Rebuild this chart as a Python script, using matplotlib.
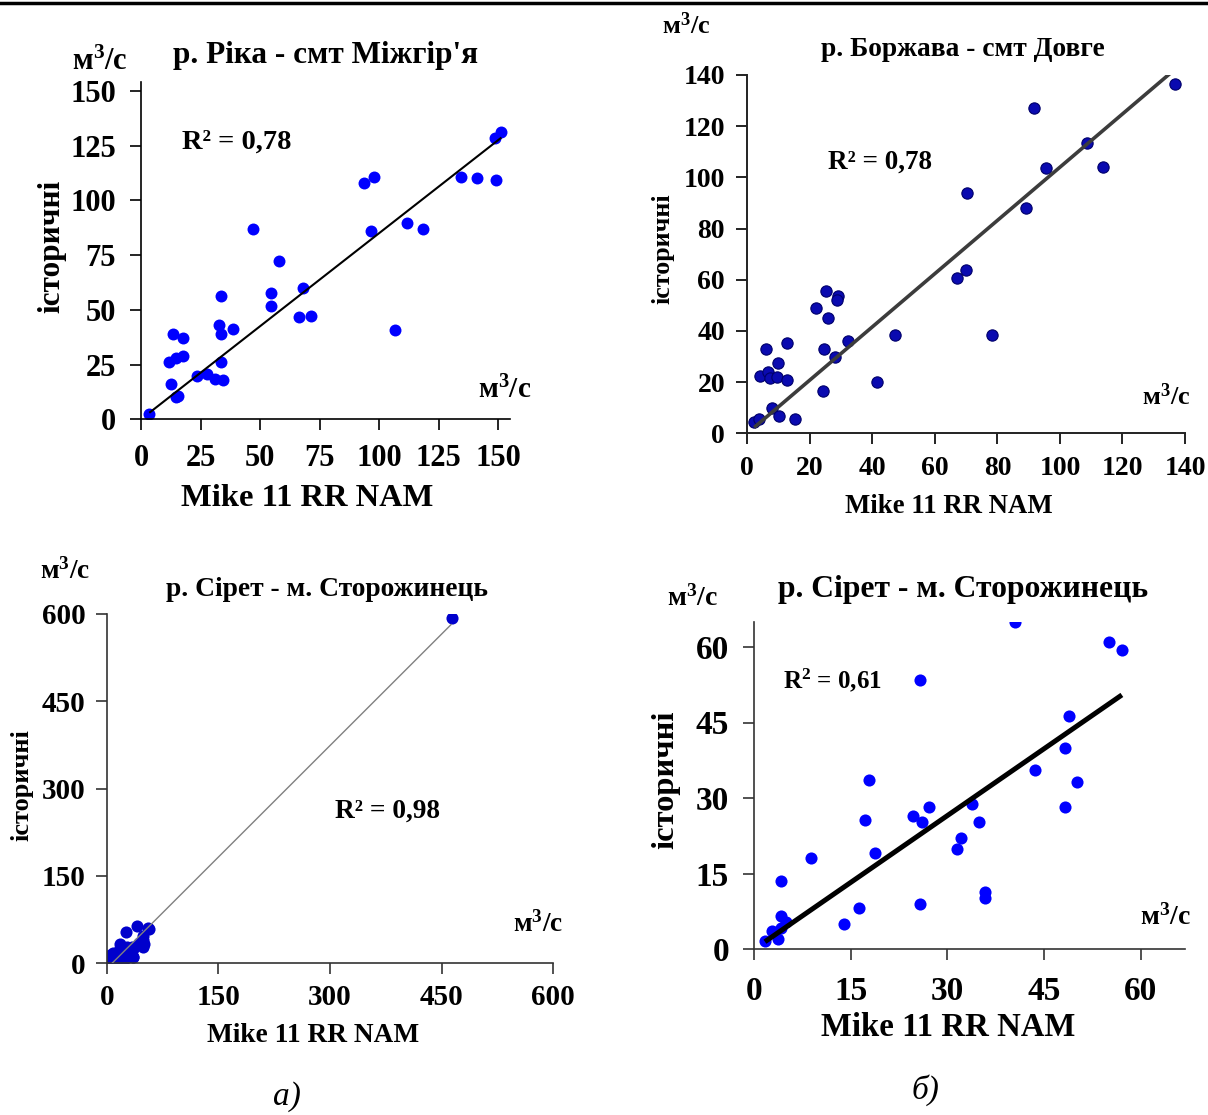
import numpy as np
import matplotlib
matplotlib.use('Agg')
import matplotlib.pyplot as plt
from matplotlib.lines import Line2D

plt.rcParams['font.family'] = ['Liberation Serif', 'DejaVu Serif']
plt.rcParams['mathtext.fontset'] = 'custom'
plt.rcParams['mathtext.rm'] = 'Liberation Serif'
plt.rcParams['mathtext.bf'] = 'Liberation Serif:bold'
plt.rcParams['mathtext.it'] = 'Liberation Serif:italic'

# р. Ріка - смт Міжгір'я
rika_x = [3.5, 12.5, 14.6, 15.6, 11.8, 14.6, 17.5, 13.3, 17.5, 23.4, 27.6, 31.1,
          34.6, 33.5, 32.9, 33.7, 38.8, 33.7, 47.2, 54.7, 54.7, 58.0, 66.4, 71.5,
          68.0, 93.5, 97.7, 96.6, 106.8, 111.7, 118.5, 134.6, 141.3, 149.0, 148.9, 151.4]
rika_y = [2.3, 16.2, 10.0, 10.8, 26.1, 28.1, 28.8, 38.8, 37.3, 19.9, 20.7, 18.5,
          17.8, 26.1, 42.9, 39.1, 41.1, 56.4, 86.8, 57.5, 51.8, 72.1, 46.5, 47.2,
          60.1, 108.1, 110.6, 85.9, 40.8, 89.7, 86.8, 110.7, 110.0, 109.1, 128.4, 131.2]

# р. Боржава - смт Довге
borz_x = [2.2, 3.7, 7.8, 10.1, 15.2, 4.1, 6.7, 7.3, 9.4, 12.6, 9.9, 6.0, 12.6,
          24.1, 24.5, 28.0, 32.3, 25.9, 22.0, 25.2, 28.9, 28.8, 41.4, 47.2, 67.1,
          69.8, 70.4, 78.4, 89.3, 91.7, 95.4, 108.8, 113.8, 136.9]
borz_y = [4.5, 5.5, 9.8, 6.9, 5.5, 22.5, 24.1, 21.5, 22.1, 20.8, 27.4, 32.8, 35.2,
          16.6, 32.8, 29.7, 36.1, 44.9, 48.8, 55.6, 53.7, 52.1, 19.9, 38.4, 60.6,
          63.8, 93.8, 38.4, 87.9, 127.2, 103.6, 113.6, 103.9, 136.5]

# р. Сірет - м. Сторожинець
siret_x = [1.7, 3.7, 2.8, 4.2, 5.0, 4.2, 4.2, 8.8, 13.9, 16.3, 17.2, 17.9, 18.8,
           24.7, 26.0, 25.7, 25.7, 27.2, 31.5, 32.2, 33.8, 35.0, 35.8, 35.8, 40.5,
           43.6, 48.3, 48.3, 48.9, 50.2, 55.1, 57.1]
siret_y = [1.6, 2.0, 3.7, 4.2, 5.4, 6.6, 13.6, 18.1, 5.0, 8.1, 25.6, 33.5, 19.2,
           26.4, 25.2, 8.9, 53.4, 28.3, 20.0, 22.0, 28.8, 25.2, 11.4, 10.1, 64.9,
           35.5, 39.9, 28.3, 46.2, 33.2, 60.9, 59.3]
# flood peak shown only on the full-range chart
siret_peak_x = [463.4]
siret_peak_y = [592.6]

W, H = 1208, 1115
fig = plt.figure(figsize=(W / 100, H / 100), dpi=100)


def px(x, y):
    return x / W, 1 - y / H


def make_axes(x0, x1, y_top, y_bot):
    ax = fig.add_axes([x0 / W, 1 - y_bot / H, (x1 - x0) / W, (y_bot - y_top) / H])
    ax.spines['top'].set_visible(False)
    ax.spines['right'].set_visible(False)
    ax.patch.set_alpha(0)
    return ax


def style_axis(ax, color, lw, size, xpad, ypad):
    for s in ['left', 'bottom']:
        ax.spines[s].set_color(color)
        ax.spines[s].set_linewidth(lw)
    ax.tick_params(direction='out', length=8, width=lw, color=color, labelsize=size)
    ax.tick_params(axis='x', pad=xpad)
    ax.tick_params(axis='y', pad=ypad)
    for lab in ax.get_xticklabels() + ax.get_yticklabels():
        lab.set_fontweight('bold')


def trend(ax, x, y, color, lw, through_zero=True):
    # excel-style linear trend, by default with zero intercept
    x = np.asarray(x)
    y = np.asarray(y)
    if through_zero:
        k, b = np.sum(x * y) / np.sum(x * x), 0.0
    else:
        k, b = np.polyfit(x, y, 1)
    xs = np.array([x.min(), x.max()])
    ax.plot(xs, k * xs + b, color=color, lw=lw, zorder=3, solid_capstyle='butt')


unit = r'м$^{\mathbf{3}}$/с'

# ---- panel a, top
ax1 = make_axes(141, 510, 82, 419.3)
ax1.scatter(rika_x, rika_y, s=74, color='#0000ff', linewidths=0, zorder=2)
trend(ax1, rika_x, rika_y, 'black', 1.5)
ax1.set_xlim(0, 155)
ax1.set_ylim(0, 154)
ax1.set_xticks(np.arange(0, 151, 25))
ax1.set_yticks(np.arange(0, 151, 25))
style_axis(ax1, 'black', 1.2, 22, 10, 10)
fig.text(*px(173, 56), "р. Ріка - смт Міжгір'я", fontsize=22.5, fontweight='bold', va='center')
fig.text(*px(72, 62), unit, fontsize=22, fontweight='bold', va='center')
fig.text(*px(182, 142), 'R² = 0,78', fontsize=20.5, fontweight='bold', va='center')
fig.text(*px(478, 390), unit, fontsize=21, fontweight='bold', va='center')
fig.text(*px(52, 246), 'історичні', fontsize=22.5, fontweight='bold', rotation=90,
         ha='center', va='center')
fig.text(*px(307, 498), 'Mike 11 RR NAM', fontsize=23.4, fontweight='bold',
         ha='center', va='center')

# ---- panel б, top
ax2 = make_axes(747.3, 1185, 75, 433.3)
ax2.scatter(borz_x, borz_y, s=66, color='#0a0ab0', edgecolors='#00006a',
            linewidths=0.8, zorder=2)
trend(ax2, borz_x, borz_y, '#3c3c3c', 2.6)
ax2.set_xlim(0, 140)
ax2.set_ylim(0, 140)
ax2.set_xticks(np.arange(0, 141, 20))
ax2.set_yticks(np.arange(0, 141, 20))
style_axis(ax2, '#222222', 1.4, 20, 8, 8)
fig.text(*px(662, 26), unit, fontsize=19, fontweight='bold', va='center')
fig.text(*px(963, 49), 'р. Боржава - смт Довге', fontsize=19.8, fontweight='bold',
         ha='center', va='center')
fig.text(*px(828, 162), 'R² = 0,78', fontsize=19.5, fontweight='bold', va='center')
fig.text(*px(1142, 397), unit, fontsize=19, fontweight='bold', va='center')
fig.text(*px(663, 249), 'історичні', fontsize=18.7, fontweight='bold', rotation=90,
         ha='center', va='center')
fig.text(*px(949, 507), 'Mike 11 RR NAM', fontsize=19.3, fontweight='bold',
         ha='center', va='center')

# ---- panel a, bottom
ax3 = make_axes(106.7, 553.3, 614, 963.3)
ax3.scatter(siret_x + siret_peak_x, siret_y + siret_peak_y, s=76, color='#0000cc',
            linewidths=0, zorder=2)
trend(ax3, siret_x + siret_peak_x, siret_y + siret_peak_y, '#808080', 1.0,
      through_zero=False)
ax3.set_xlim(0, 600)
ax3.set_ylim(0, 600)
ax3.set_xticks(np.arange(0, 601, 150))
ax3.set_yticks(np.arange(0, 601, 150))
style_axis(ax3, '#333333', 1.2, 21, 7, 7)
fig.text(*px(40, 571), unit, fontsize=19.7, fontweight='bold', va='center')
fig.text(*px(327, 590), 'р. Сірет - м. Сторожинець', fontsize=19.8, fontweight='bold',
         ha='center', va='center')
fig.text(*px(335, 811), 'R² = 0,98', fontsize=19.7, fontweight='bold', va='center')
fig.text(*px(513, 924), unit, fontsize=19.7, fontweight='bold', va='center')
fig.text(*px(22, 785), 'історичні', fontsize=19, fontweight='bold', rotation=90,
         ha='center', va='center')
fig.text(*px(313, 1035), 'Mike 11 RR NAM', fontsize=19.7, fontweight='bold',
         ha='center', va='center')

# ---- panel б, bottom
ax4 = make_axes(754, 1185, 621.7, 949.3)
ax4.scatter(siret_x, siret_y, s=76, color='#0000ff', linewidths=0, zorder=2)
trend(ax4, siret_x, siret_y, 'black', 3.6)
ax4.set_xlim(0, 66.9)
ax4.set_ylim(0, 65)
ax4.set_xticks(np.arange(0, 61, 15))
ax4.set_yticks(np.arange(0, 61, 15))
style_axis(ax4, '#333333', 1.2, 24, 11, 10)
fig.text(*px(667, 598), unit, fontsize=20, fontweight='bold', va='center')
fig.text(*px(963, 590), 'р. Сірет - м. Сторожинець', fontsize=22.8, fontweight='bold',
         ha='center', va='center')
fig.text(*px(783, 680), r'R$^{\mathbf{2}}$ = 0,61', fontsize=18, fontweight='bold', va='center')
fig.text(*px(1140, 917), unit, fontsize=20, fontweight='bold', va='center')
fig.text(*px(666, 780), 'історичні', fontsize=23.4, fontweight='bold', rotation=90,
         ha='center', va='center')
fig.text(*px(948, 1028), 'Mike 11 RR NAM', fontsize=23.6, fontweight='bold',
         ha='center', va='center')

# panel letters
fig.text(*px(287, 1097), 'а)', fontsize=24, style='italic', ha='center', va='center')
fig.text(*px(925, 1090), 'б)', fontsize=24, style='italic', ha='center', va='center')

# cut-off table border at the very top
fig.add_artist(Line2D([0, 1], [1 - 3 / H] * 2, color='black', lw=2.5))

fig.savefig('out.png', dpi=100)
